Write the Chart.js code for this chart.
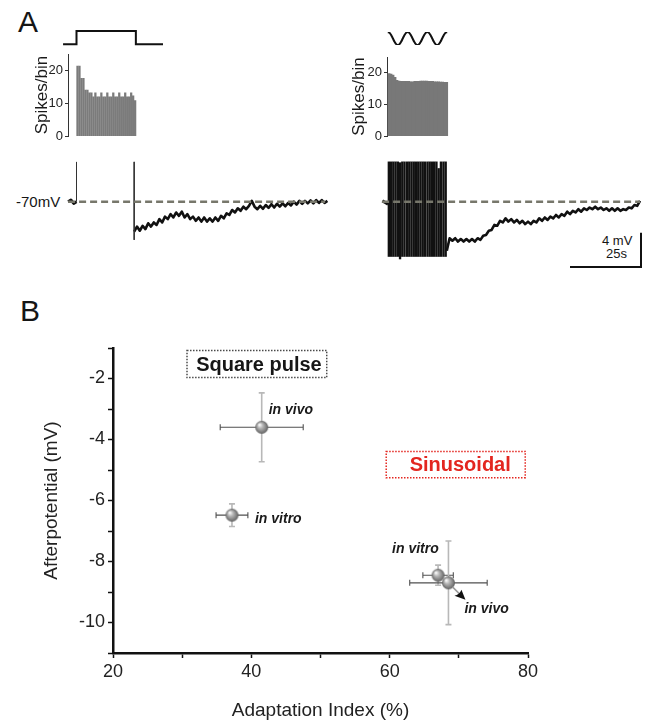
<!DOCTYPE html>
<html>
<head>
<meta charset="utf-8">
<script src="https://cdn.jsdelivr.net/npm/chart.js@4.4.0/dist/chart.umd.min.js"></script>
<style>
  html, body { margin: 0; padding: 0; background: #fff; }
  body { width: 645px; height: 722px; position: relative; overflow: hidden;
         font-family: "Liberation Sans", Arial, sans-serif; color: #151515; }
  canvas { position: absolute; }
  .lbl { position: absolute; white-space: nowrap; line-height: 1; }
</style>
</head>
<body>
<div class="lbl" style="left:18px;top:7px;font-size:30px;">A</div>
<div class="lbl" style="left:20px;top:296px;font-size:30px;">B</div>
<div class="lbl" style="left:16px;top:194px;font-size:15px;">-70mV</div>
<div class="lbl" style="left:602px;top:234px;font-size:13px;">4 mV</div>
<div class="lbl" style="left:606px;top:247px;font-size:13px;">25s</div>
<script>
// ---------- panel A data ----------
// spikes per bin during the 21 s stimulation (bin = 0.71 s)
const binSec = 0.71;
const squareBins = [21.3, 21.3, 17.6, 17.6, 14, 14, 13.2, 13.2, 12, 13.2, 12, 12, 13.2, 12, 12,
                    13.2, 12, 12, 13.2, 12, 12, 13.2, 12, 12, 13.2, 12, 12, 13.2, 12.3, 10.8];
const sineBins = [19.8, 19.6, 19.3, 18.6, 17.6, 17.4, 17.3, 17.3, 17.3, 17.3, 17.3, 17.2, 17.2, 17.3, 17.3,
                  17.3, 17.4, 17.4, 17.4, 17.4, 17.3, 17.3, 17.3, 17.2, 17.2, 17.2, 17.1, 17.1, 17.0, 17.0];

// stimulus waveforms
const squareStimT = [-4.8, 0, 0, 21.2, 21.2, 30.9];
const squareStimV = [0, 0, 1, 1, 0, 0];
const sineStimV = [1, 0.87, 0.5, 0, -0.5, -0.87, -1, -0.87, -0.5, 0, 0.5, 0.87,
                   1, 0.87, 0.5, 0, -0.5, -0.87, -1, -0.87, -0.5, 0, 0.5, 0.87,
                   1, 0.87, 0.5, 0, -0.5, -0.87, -1, -0.87, -0.5, 0, 0.5, 0.87, 1];

// membrane potential (mV), one sample per second
const restMV = -70;
const sqPreMV = [-70.0, -69.8, -70.2, -70.0];          // t = -3 .. 0 s
const sqOnArtifact = [-70, -65.2];                      // at t = 0
const sqOffT = 20.6;
const sqOffArtifact = [-65.2, -74.6];
const sqPostMV = [-73.6, -73.0, -73.5, -72.9, -73.3, -72.6, -73.0, -72.5, -72.8, -72.1,
                  -72.5, -71.8, -72.1, -71.5, -71.9, -71.3, -71.7, -71.2, -71.9, -71.5,
                  -72.1, -71.8, -72.3, -71.9, -72.4, -71.9, -72.4, -72.0, -72.4, -71.9,
                  -72.3, -71.7, -72.0, -71.4, -71.6, -71.0, -71.3, -70.8, -71.1, -70.6,
                  -70.9, -70.5, -69.9, -70.6, -70.9, -70.5, -70.85, -70.4, -70.75, -70.3,
                  -70.7, -70.25, -70.6, -70.2, -70.55, -70.15, -70.45, -70.0, -70.35, -69.9,
                  -70.25, -69.9, -70.2, -69.85, -70.2, -69.8, -70.15, -69.8, -70.15, -69.9];

const sinPreMV = [-69.9, -70.1, -70.3];                 // t = -2 .. 0 s
const spikeT = [0.3, 1.1, 1.9, 2.7, 3.5, 4.3, 5.1, 5.9, 6.8, 7.6, 8.4, 9.2, 10.0, 10.8, 11.6,
                12.4, 13.2, 14.1, 14.9, 15.7, 16.5, 17.3, 18.1, 18.9, 19.8, 20.6];
const spikeTop = [-65.2, -65.2, -65.2, -65.2, -65.2, -65.3, -65.2, -65.2, -65.2, -65.2, -65.2, -65.2, -65.2,
                  -65.2, -65.2, -65.2, -65.2, -65.2, -65.2, -65.2, -65.2, -65.2, -66.0, -65.2, -65.2, -65.2];
const spikeBottom = [-76.6, -76.6, -76.6, -76.6, -76.6, -76.9, -76.6, -76.6, -76.6, -76.6, -76.6, -76.6, -76.6,
                     -76.6, -76.6, -76.6, -76.6, -76.6, -76.6, -76.6, -76.6, -76.6, -76.6, -76.6, -76.6, -76.6];
const sinPostT0 = 21;
const sinPostMV = [-75.9, -74.4, -74.7, -74.4, -74.8, -74.5, -74.8, -74.5, -74.8, -74.5,
                   -74.8, -74.4, -74.6, -74.1, -74.0, -73.5, -73.4, -72.8, -72.9, -72.3,
                   -72.5, -72.0, -72.4, -72.1, -72.5, -72.2, -72.6, -72.3, -72.7, -72.4,
                   -72.7, -72.3, -72.5, -72.0, -72.3, -71.9, -72.2, -71.8, -72.0, -71.6,
                   -71.9, -71.5, -71.7, -71.2, -71.5, -71.1, -71.3, -70.9, -71.2, -70.8,
                   -71.0, -70.7, -70.9, -70.6, -70.9, -70.7, -71.0, -70.8, -71.1, -70.8,
                   -71.1, -70.8, -71.1, -70.9, -71.0, -70.7, -70.8, -70.4, -70.5, -69.9];
const scaleBarSec = 25, scaleBarMV = 4;

// ---------- panel B data ----------
const adaptIdx = [41.5, 37.2, 67.0, 68.5];
const adaptSem = [6.0, 2.3, 2.2, 5.6];
const afterPot = [-3.6, -6.48, -8.45, -8.7];
const afterSem = [1.13, 0.37, 0.33, 1.37];
const prepLabels = ['in vivo', 'in vitro', 'in vitro', 'in vivo'];

// ---------- layout ----------
const PX_PER_S = 2.8, PX_PER_MV = 8.3;
const ONSET_L = 76.5, ONSET_R = 388, REST_Y = 201.7;

Chart.defaults.font.family = '"Liberation Sans", Arial, sans-serif';
Chart.defaults.color = '#1a1a1a';
Chart.defaults.animation = false;
Chart.defaults.responsive = false;
Chart.defaults.events = [];
Chart.defaults.plugins.legend.display = false;
Chart.defaults.plugins.tooltip.enabled = false;

function addCanvas(left, top, w, h) {
  const c = document.createElement('canvas');
  c.width = w; c.height = h;
  c.style.left = left + 'px'; c.style.top = top + 'px';
  c.style.width = w + 'px'; c.style.height = h + 'px';
  document.body.appendChild(c);
  return c;
}
function timeAxis(x0, x1, onset) {
  return { type: 'linear', display: false, offset: false,
           min: (x0 - onset) / PX_PER_S, max: (x1 - onset) / PX_PER_S };
}
function mvAxis(y0, y1) {
  return { type: 'linear', display: false,
           min: restMV - (y1 - REST_Y) / PX_PER_MV, max: restMV + (REST_Y - y0) / PX_PER_MV };
}
const pts = (t0, arr) => arr.map((v, i) => ({ x: t0 + i, y: v }));
const lineDs = (data, extra) => Object.assign({ type: 'line', data, borderColor: '#111', borderWidth: 2.6,
  pointRadius: 0, tension: 0, fill: false, borderJoinStyle: 'round' }, extra);

function spikeAxis(width, titlePad) {
  return {
    min: 0, max: 25,
    ticks: { stepSize: 5, callback: v => (v % 10 === 0 ? v : ''), font: { size: 13 }, color: '#222', padding: 2 },
    grid: { drawOnChartArea: false, tickLength: 3, tickColor: '#333', tickWidth: 1 },
    border: { color: '#333', width: 1 },
    title: { display: true, text: 'Spikes/bin', font: { size: 17 }, color: '#1a1a1a', padding: { top: titlePad, bottom: 0 } },
    afterFit: s => { s.width = width; }
  };
}

// stimulus: square pulse
new Chart(addCanvas(58, 24, 110, 26), {
  type: 'line',
  data: { datasets: [lineDs(squareStimT.map((t, i) => ({ x: t, y: squareStimV[i] })), { borderWidth: 2, borderJoinStyle: 'miter' })] },
  options: { layout: { padding: 0 },
    scales: { x: timeAxis(58, 168, ONSET_L), y: { display: false, min: -0.43, max: 1.53 } } }
});

// stimulus: sinusoid
new Chart(addCanvas(384, 26, 68, 24), {
  type: 'line',
  data: { labels: sineStimV.map((_, i) => i),
          datasets: [lineDs(sineStimV, { borderWidth: 2, tension: 0.4 })] },
  options: { layout: { padding: { left: 4, right: 5, top: 6, bottom: 5 } },
    scales: { x: { type: 'category', display: false, offset: false }, y: { display: false, min: -1, max: 1 } } }
});

// histograms
new Chart(addCanvas(28, 44, 118, 102), {
  type: 'bar',
  data: { datasets: [{ data: squareBins.map((v, i) => ({ x: (i + 0.5) * binSec, y: v })),
                       backgroundColor: '#7b7b7b', barThickness: 1.6, borderWidth: 0 }] },
  options: { layout: { padding: { top: 10, bottom: 8, left: 0, right: 0 } },
    scales: { x: timeAxis(68, 146, ONSET_L), y: spikeAxis(40, 4) } }
});
new Chart(addCanvas(340, 44, 110, 102), {
  type: 'bar',
  data: { datasets: [{ data: sineBins.map((v, i) => ({ x: (i + 0.5) * binSec, y: v })),
                       backgroundColor: '#787878', barThickness: 2.2, borderWidth: 0 }] },
  options: { layout: { padding: { top: 13, bottom: 8, left: 0, right: 0 } },
    scales: { x: timeAxis(387, 450, ONSET_R), y: spikeAxis(47, 9) } }
});

// voltage traces
const dashed = (t0, t1) => lineDs([{ x: t0, y: restMV }, { x: t1, y: restMV }],
  { borderColor: '#77776b', borderWidth: 2.5, borderDash: [7, 4], order: 0 });

new Chart(addCanvas(60, 150, 275, 100), {
  type: 'line',
  data: { datasets: [
    dashed(-3.0, 88.8),
    lineDs(pts(-3, sqPreMV), { order: 1, borderWidth: 3 }),
    lineDs(sqOnArtifact.map(v => ({ x: 0, y: v })), { order: 1, borderWidth: 1, borderColor: '#333' }),
    lineDs(sqOffArtifact.map(v => ({ x: sqOffT, y: v })), { order: 1, borderWidth: 1, borderColor: '#333' }),
    lineDs(pts(sqOffT, sqPostMV), { order: 1 })
  ] },
  options: { layout: { padding: 0 }, scales: { x: timeAxis(60, 335, ONSET_L), y: mvAxis(150, 250) } }
});

const barEnd = { t: (641 - ONSET_R) / PX_PER_S, mv: restMV - (267 - REST_Y) / PX_PER_MV };
new Chart(addCanvas(376, 150, 269, 125), {
  type: 'line',
  data: { datasets: [
    dashed(-2.1, 90.0),
    lineDs(pts(-2, sinPreMV), { order: 1, borderWidth: 3 }),
    { type: 'bar', order: 2, data: spikeT.map((t, i) => ({ x: t, y: [spikeBottom[i], spikeTop[i]] })),
      backgroundColor: '#111', barThickness: 1.7, borderWidth: 0 },
    lineDs(pts(sinPostT0, sinPostMV), { order: 1 }),
    lineDs([{ x: barEnd.t - scaleBarSec, y: barEnd.mv }, { x: barEnd.t, y: barEnd.mv },
            { x: barEnd.t, y: barEnd.mv + scaleBarMV }],
           { order: 1, borderWidth: 2, borderCapStyle: 'square', borderJoinStyle: 'miter' })
  ] },
  options: { layout: { padding: 0 }, scales: { x: timeAxis(376, 645, ONSET_R), y: mvAxis(150, 275) } }
});

// ---------- panel B ----------
function sphere(r) {
  const c = document.createElement('canvas');
  c.width = c.height = 2 * r + 2;
  const g = c.getContext('2d');
  const cx = r + 1;
  const grad = g.createRadialGradient(cx - r * 0.35, cx - r * 0.4, r * 0.1, cx, cx, r);
  grad.addColorStop(0, '#f6f6f6');
  grad.addColorStop(0.35, '#b6b6b6');
  grad.addColorStop(0.8, '#7c7c7c');
  grad.addColorStop(1, '#5e5e5e');
  g.fillStyle = grad;
  g.beginPath(); g.arc(cx, cx, r, 0, Math.PI * 2); g.fill();
  return c;
}

const labelOffsets = [[7, -17], [23, 4], [-46, -26], [16, 26]];
const boxes = [
  { text: 'Square pulse', x0: 30.7, x1: 50.9, y0: -1.08, y1: -1.97, tx: 41.1, color: '#161616', border: '#4a4a4a', size: 20 },
  { text: 'Sinusoidal', x0: 59.5, x1: 79.6, y0: -4.39, y1: -5.25, tx: 70.2, color: '#e3261f', border: '#e3261f', size: 20 }
];

const errorBars = {
  id: 'errorBars',
  beforeDatasetsDraw(chart) {
    const { ctx, scales: { x, y } } = chart;
    ctx.save();
    adaptIdx.forEach((ai, i) => {
      const px = x.getPixelForValue(ai), py = y.getPixelForValue(afterPot[i]);
      const yT = y.getPixelForValue(afterPot[i] + afterSem[i]), yB = y.getPixelForValue(afterPot[i] - afterSem[i]);
      const xL = x.getPixelForValue(ai - adaptSem[i]), xR = x.getPixelForValue(ai + adaptSem[i]);
      ctx.strokeStyle = '#b8b8b8'; ctx.lineWidth = 1.6;
      ctx.beginPath();
      ctx.moveTo(px, yT); ctx.lineTo(px, yB);
      ctx.moveTo(px - 3, yT); ctx.lineTo(px + 3, yT);
      ctx.moveTo(px - 3, yB); ctx.lineTo(px + 3, yB);
      ctx.stroke();
      ctx.strokeStyle = '#505050'; ctx.lineWidth = 1.1;
      ctx.beginPath();
      ctx.moveTo(xL, py); ctx.lineTo(xR, py);
      ctx.moveTo(xL, py - 3); ctx.lineTo(xL, py + 3);
      ctx.moveTo(xR, py - 3); ctx.lineTo(xR, py + 3);
      ctx.stroke();
    });
    ctx.restore();
  }
};

const annotations = {
  id: 'annotations',
  afterDatasetsDraw(chart) {
    const { ctx, scales: { x, y } } = chart;
    ctx.save();
    // arrow from the sinusoidal in vivo marker
    const ax = x.getPixelForValue(adaptIdx[3]), ay = y.getPixelForValue(afterPot[3]);
    ctx.strokeStyle = '#9a9a9a'; ctx.lineWidth = 1.5;
    ctx.beginPath(); ctx.moveTo(ax + 4, ay + 4); ctx.lineTo(ax + 11, ay + 11); ctx.stroke();
    ctx.fillStyle = '#111';
    ctx.beginPath();
    ctx.moveTo(ax + 17, ay + 17);
    ctx.lineTo(ax + 6, ay + 13);
    ctx.quadraticCurveTo(ax + 11, ay + 12, ax + 13, ay + 7);
    ctx.closePath(); ctx.fill();

    ctx.font = 'italic bold 14px "Liberation Sans", Arial, sans-serif';
    ctx.textBaseline = 'middle'; ctx.textAlign = 'left';
    ctx.fillStyle = '#1a1a1a';
    prepLabels.forEach((t, i) => {
      ctx.fillText(t, x.getPixelForValue(adaptIdx[i]) + labelOffsets[i][0],
                      y.getPixelForValue(afterPot[i]) + labelOffsets[i][1]);
    });

    boxes.forEach(b => {
      const l = x.getPixelForValue(b.x0), r = x.getPixelForValue(b.x1);
      const t = y.getPixelForValue(b.y0), bt = y.getPixelForValue(b.y1);
      ctx.setLineDash([1.5, 1.5]); ctx.lineWidth = 1.5; ctx.strokeStyle = b.border;
      ctx.strokeRect(l, t, r - l, bt - t);
      ctx.setLineDash([]);
      ctx.font = 'bold ' + b.size + 'px "Liberation Sans", Arial, sans-serif';
      ctx.fillStyle = b.color; ctx.textAlign = 'center';
      ctx.fillText(b.text, x.getPixelForValue(b.tx), (t + bt) / 2 + 1);
    });
    ctx.restore();
  }
};

new Chart(addCanvas(0, 280, 645, 442), {
  type: 'scatter',
  data: { datasets: [{
    data: adaptIdx.map((v, i) => ({ x: v, y: afterPot[i] })),
    pointStyle: sphere(6.5), pointRadius: 7
  }] },
  options: {
    layout: { padding: { top: 68, right: 117, left: 0, bottom: 0 } },
    scales: {
      x: {
        type: 'linear', min: 20, max: 80,
        ticks: { stepSize: 10, autoSkip: false, maxRotation: 0, callback: v => (v % 20 === 0 ? String(v) : ''),
                 font: { size: 18 }, color: '#222', padding: 3 },
        grid: { drawOnChartArea: false, tickLength: 5, tickColor: '#111', tickWidth: 1.5 },
        border: { color: '#111', width: 2.5 },
        title: { display: true, text: 'Adaptation Index (%)', font: { size: 19 }, color: '#222', padding: { top: 0, bottom: 0 } },
        afterFit: s => { s.height = 69; }
      },
      y: {
        type: 'linear', min: -11, max: -1,
        ticks: { stepSize: 1, autoSkip: false, callback: v => (v % 2 === 0 ? String(v) : ''),
                 font: { size: 18 }, color: '#222', padding: 3 },
        grid: { drawOnChartArea: false, tickLength: 5, tickColor: '#111', tickWidth: 1.5 },
        border: { color: '#111', width: 2.5 },
        title: { display: true, text: 'Afterpotential (mV)', font: { size: 19 }, color: '#222', padding: { top: 40, bottom: 0 } },
        afterFit: s => { s.width = 113; }
      }
    }
  },
  plugins: [errorBars, annotations]
});
</script>
</body>
</html>
